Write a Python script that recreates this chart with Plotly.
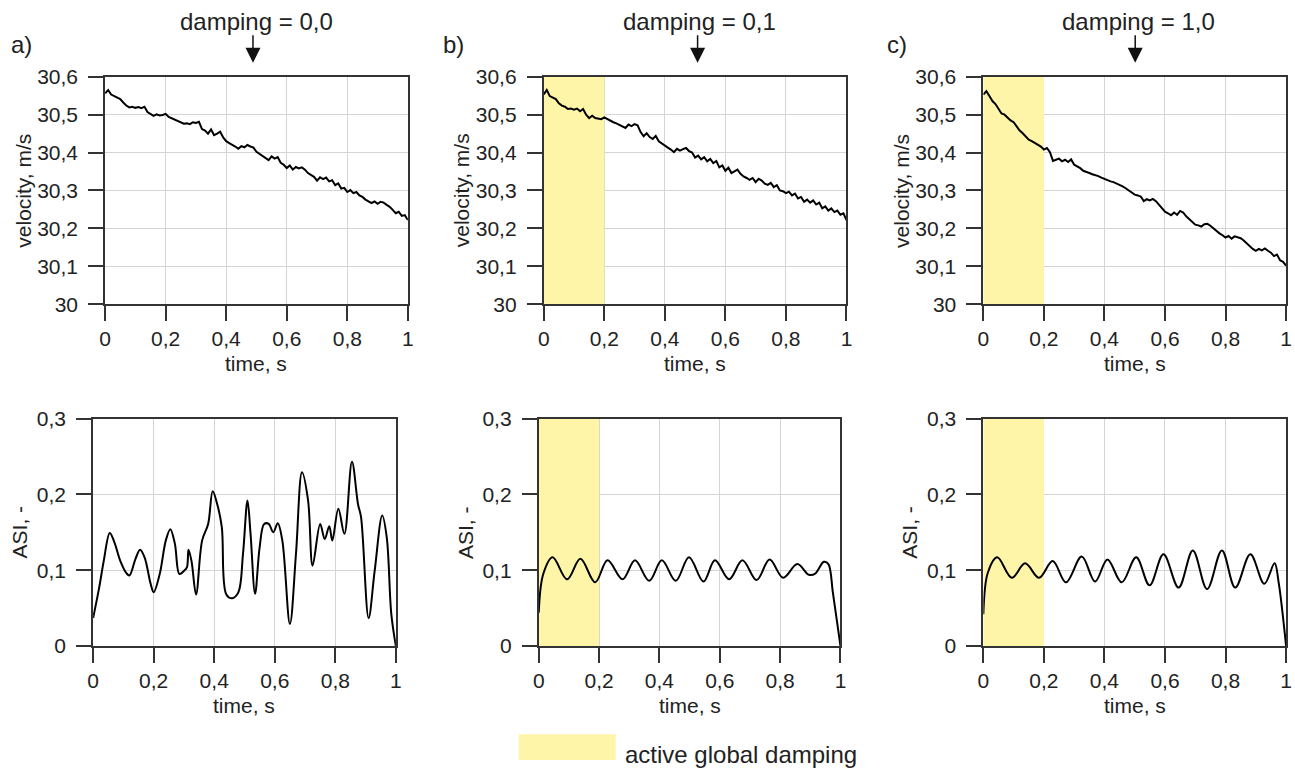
import plotly.graph_objects as go

W, H = 1295, 771          # browser window = figure size (page margin removed below)
# observed mapping page-px -> picture-px (picture = s * page + c)
SX, CX = 0.9916, 4.8
SY, CY = 0.968, 12.4

# ---------------- data ----------------
time_v = [0.00, 0.01, 0.02, 0.03, 0.04, 0.05, 0.06, 0.07, 0.08, 0.09,
          0.10, 0.11, 0.12, 0.13, 0.14, 0.15, 0.16, 0.17, 0.18, 0.19,
          0.20, 0.21, 0.22, 0.23, 0.24, 0.25, 0.26, 0.27, 0.28, 0.29,
          0.30, 0.31, 0.32, 0.33, 0.34, 0.35, 0.36, 0.37, 0.38, 0.39,
          0.40, 0.41, 0.42, 0.43, 0.44, 0.45, 0.46, 0.47, 0.48, 0.49,
          0.50, 0.51, 0.52, 0.53, 0.54, 0.55, 0.56, 0.57, 0.58, 0.59,
          0.60, 0.61, 0.62, 0.63, 0.64, 0.65, 0.66, 0.67, 0.68, 0.69,
          0.70, 0.71, 0.72, 0.73, 0.74, 0.75, 0.76, 0.77, 0.78, 0.79,
          0.80, 0.81, 0.82, 0.83, 0.84, 0.85, 0.86, 0.87, 0.88, 0.89,
          0.90, 0.91, 0.92, 0.93, 0.94, 0.95, 0.96, 0.97, 0.98, 0.99, 1.00]

velocity_a = [30.556, 30.565, 30.553, 30.549, 30.545, 30.541, 30.532, 30.524, 30.519, 30.521,
              30.518, 30.520, 30.517, 30.521, 30.507, 30.503, 30.497, 30.501, 30.498, 30.499,
              30.502, 30.494, 30.490, 30.487, 30.484, 30.480, 30.476, 30.477, 30.475, 30.480,
              30.478, 30.481, 30.462, 30.458, 30.450, 30.461, 30.446, 30.450, 30.455, 30.440,
              30.430, 30.425, 30.421, 30.416, 30.410, 30.417, 30.414, 30.420, 30.416, 30.413,
              30.402, 30.396, 30.390, 30.386, 30.380, 30.390, 30.384, 30.388, 30.373, 30.368,
              30.359, 30.366, 30.355, 30.362, 30.358, 30.361, 30.355, 30.346, 30.341, 30.336,
              30.326, 30.335, 30.330, 30.334, 30.324, 30.327, 30.314, 30.319, 30.305, 30.307,
              30.296, 30.301, 30.293, 30.296, 30.287, 30.283, 30.276, 30.272, 30.267, 30.271,
              30.265, 30.270, 30.268, 30.262, 30.257, 30.249, 30.240, 30.244, 30.233, 30.235, 30.222]

velocity_b = [30.553, 30.565, 30.549, 30.545, 30.541, 30.530, 30.524, 30.521, 30.515, 30.516,
              30.513, 30.516, 30.509, 30.515, 30.500, 30.491, 30.497, 30.491, 30.489, 30.488,
              30.493, 30.488, 30.483, 30.480, 30.477, 30.473, 30.470, 30.465, 30.474, 30.470,
              30.475, 30.472, 30.454, 30.443, 30.451, 30.441, 30.436, 30.444, 30.430, 30.424,
              30.417, 30.413, 30.408, 30.401, 30.410, 30.405, 30.409, 30.412, 30.404, 30.400,
              30.387, 30.392, 30.382, 30.388, 30.377, 30.383, 30.372, 30.378, 30.361, 30.366,
              30.352, 30.360, 30.346, 30.350, 30.355, 30.344, 30.337, 30.333, 30.328, 30.333,
              30.322, 30.331, 30.326, 30.318, 30.315, 30.320, 30.309, 30.314, 30.300, 30.298,
              30.293, 30.297, 30.287, 30.292, 30.279, 30.283, 30.270, 30.276, 30.268, 30.274,
              30.263, 30.268, 30.253, 30.258, 30.247, 30.253, 30.243, 30.247, 30.236, 30.240, 30.222]

velocity_c = [30.553, 30.562, 30.549, 30.536, 30.528, 30.514, 30.503, 30.500, 30.492, 30.485,
              30.480, 30.469, 30.458, 30.451, 30.443, 30.434, 30.430, 30.425, 30.420, 30.416,
              30.408, 30.412, 30.401, 30.378, 30.381, 30.384, 30.377, 30.381, 30.375, 30.382,
              30.368, 30.364, 30.359, 30.352, 30.348, 30.346, 30.343, 30.341, 30.338, 30.334,
              30.330, 30.327, 30.324, 30.322, 30.319, 30.314, 30.311, 30.306, 30.301, 30.295,
              30.289, 30.287, 30.284, 30.272, 30.277, 30.274, 30.278, 30.272, 30.263, 30.255,
              30.244, 30.240, 30.235, 30.242, 30.236, 30.246, 30.242, 30.232, 30.224, 30.216,
              30.210, 30.208, 30.205, 30.211, 30.212, 30.207, 30.200, 30.194, 30.187, 30.182,
              30.176, 30.180, 30.173, 30.179, 30.177, 30.174, 30.168, 30.160, 30.152, 30.146,
              30.141, 30.146, 30.142, 30.147, 30.141, 30.136, 30.127, 30.131, 30.116, 30.112, 30.102]

time_asi_a = [0.0, 0.02, 0.035, 0.055, 0.07, 0.09, 0.11, 0.12, 0.14, 0.155, 0.17, 0.19, 0.2,
              0.22, 0.24, 0.255, 0.27, 0.285, 0.3, 0.31, 0.315, 0.325, 0.34, 0.36, 0.38,
              0.395, 0.41, 0.425, 0.44, 0.46, 0.48, 0.495, 0.51, 0.52, 0.535, 0.55, 0.565,
              0.58, 0.595, 0.61, 0.625, 0.65, 0.67, 0.69, 0.71, 0.725, 0.75, 0.765, 0.78,
              0.79, 0.81, 0.83, 0.855, 0.875, 0.885, 0.91, 0.93, 0.955, 0.97, 0.985, 1.0]
asi_a = [0.037, 0.077, 0.112, 0.149, 0.137, 0.112, 0.096, 0.093, 0.115, 0.127, 0.117, 0.082, 0.071,
         0.095, 0.139, 0.154, 0.135, 0.095, 0.099, 0.104, 0.127, 0.112, 0.068, 0.139, 0.161,
         0.204, 0.187, 0.157, 0.068, 0.063, 0.071, 0.121, 0.192, 0.148, 0.069, 0.130, 0.161,
         0.161, 0.150, 0.162, 0.139, 0.029, 0.121, 0.229, 0.192, 0.106, 0.161, 0.141, 0.158,
         0.139, 0.181, 0.148, 0.243, 0.187, 0.170, 0.037, 0.099, 0.172, 0.143, 0.042, 0.0]

time_asi_b = [0.0, 0.015, 0.046, 0.094, 0.138, 0.187, 0.228, 0.278, 0.319, 0.366, 0.408, 0.454,
              0.498, 0.546, 0.584, 0.631, 0.675, 0.722, 0.765, 0.81, 0.857, 0.895, 0.915,
              0.945, 0.96, 0.975, 1.0]
asi_b = [0.044, 0.095, 0.117, 0.088, 0.115, 0.084, 0.113, 0.088, 0.113, 0.086, 0.113, 0.086,
         0.117, 0.085, 0.113, 0.088, 0.113, 0.087, 0.114, 0.090, 0.108, 0.094, 0.095,
         0.111, 0.108, 0.070, 0.0]

time_asi_c = [0.0, 0.015, 0.046, 0.094, 0.138, 0.184, 0.229, 0.273, 0.325, 0.369, 0.41, 0.457,
              0.505, 0.549, 0.595, 0.645, 0.692, 0.739, 0.788, 0.832, 0.882, 0.928, 0.962,
              0.975, 1.0]
asi_c = [0.042, 0.097, 0.117, 0.090, 0.109, 0.090, 0.112, 0.084, 0.118, 0.085, 0.114, 0.084,
         0.117, 0.080, 0.121, 0.077, 0.126, 0.075, 0.126, 0.077, 0.121, 0.082, 0.109,
         0.085, 0.0]

panel_letters = ["a)", "b)", "c)"]
damping_labels = ["damping = 0,0", "damping = 0,1", "damping = 1,0"]
damping_active_end = 0.2
x_ticks = [0, 0.2, 0.4, 0.6, 0.8, 1]
v_range = [30, 30.6]
v_ticks = [30, 30.1, 30.2, 30.3, 30.4, 30.5, 30.6]
asi_range = [0, 0.3]
asi_ticks = [0, 0.1, 0.2, 0.3]

# ---------------- layout helpers ----------------
FONT = "Liberation Sans, Arial, sans-serif"
TXT = "#222222"
FRAME = "#333333"
GRID = "#d4d4d4"
YELLOW = "#fff5a8"

def fx(t):
    # target picture pixel -> paper fraction
    return ((t - CX) / SX) / W

def fy(t):
    return 1 - ((t - CY) / SY) / H

# plot-area pixel boxes in the picture: (left, right, top, bottom)
top_boxes = [(104, 407, 77, 304), (543, 846, 77, 304), (983, 1286, 77, 304)]
bot_boxes = [(92, 395, 418, 645), (538, 840, 418, 645), (983, 1286, 418, 645)]

fig = go.Figure()

velocities = [velocity_a, velocity_b, velocity_c]
asi_t = [time_asi_a, time_asi_b, time_asi_c]
asi_v = [asi_a, asi_b, asi_c]

def axis_common():
    return dict(
        showgrid=True, gridcolor=GRID, gridwidth=1,
        showline=True, linecolor=FRAME, linewidth=1.8, mirror=True,
        ticks="outside", ticklen=15, tickwidth=1.5, tickcolor=FRAME,
        tickfont=dict(family=FONT, size=21, color=TXT),
        zeroline=False, fixedrange=True,
    )

def shade(xref, yref, yr):
    # yellow band for the period of active global damping (above grid, below curve)
    return go.Scatter(x=[0, damping_active_end, damping_active_end, 0, 0],
                      y=[yr[0], yr[0], yr[1], yr[1], yr[0]],
                      mode="lines", fill="toself", fillcolor=YELLOW,
                      line=dict(width=0, color=YELLOW), hoverinfo="skip",
                      xaxis=xref, yaxis=yref, showlegend=False)

annotations = []
shapes = []

for i in range(3):
    ti = 2 * i + 1
    bi = 2 * i + 2
    l, r, t, b = top_boxes[i]
    xa = axis_common()
    xa.update(domain=[fx(l), fx(r)], range=[0, 1], tickvals=x_ticks, anchor=f"y{ti}")
    ya = axis_common()
    ya.update(domain=[fy(b), fy(t)], range=v_range, tickvals=v_ticks, anchor=f"x{ti}",
              ticklabelstandoff=6)
    fig.update_layout(**{f"xaxis{ti}": xa, f"yaxis{ti}": ya})
    if i > 0:
        fig.add_trace(shade(f"x{ti}", f"y{ti}", v_range))
    fig.add_trace(go.Scatter(x=time_v, y=velocities[i], mode="lines",
                             line=dict(color="#000000", width=2),
                             xaxis=f"x{ti}", yaxis=f"y{ti}", showlegend=False))
    annotations.append(dict(text="time, s", x=fx((l + r) / 2), y=fy(b + 59), xref="paper", yref="paper",
                            showarrow=False, font=dict(family=FONT, size=21, color=TXT),
                            xanchor="center", yanchor="middle"))
    annotations.append(dict(text="velocity, m/s", x=fx(l - 82), y=fy((t + b) / 2), xref="paper", yref="paper",
                            showarrow=False, textangle=-90, font=dict(family=FONT, size=21, color=TXT),
                            xanchor="center", yanchor="middle"))

    l2, r2, t2, b2 = bot_boxes[i]
    xa = axis_common()
    xa.update(domain=[fx(l2), fx(r2)], range=[0, 1], tickvals=x_ticks, anchor=f"y{bi}")
    ya = axis_common()
    ya.update(domain=[fy(b2), fy(t2)], range=asi_range, tickvals=asi_ticks, anchor=f"x{bi}",
              ticklabelstandoff=6)
    fig.update_layout(**{f"xaxis{bi}": xa, f"yaxis{bi}": ya})
    if i > 0:
        fig.add_trace(shade(f"x{bi}", f"y{bi}", asi_range))
    fig.add_trace(go.Scatter(x=asi_t[i], y=asi_v[i], mode="lines",
                             line=dict(color="#000000", width=2, shape="spline", smoothing=1.0),
                             xaxis=f"x{bi}", yaxis=f"y{bi}", showlegend=False))
    annotations.append(dict(text="time, s", x=fx((l2 + r2) / 2), y=fy(b2 + 59), xref="paper", yref="paper",
                            showarrow=False, font=dict(family=FONT, size=21, color=TXT),
                            xanchor="center", yanchor="middle"))
    annotations.append(dict(text="ASI, -", x=fx(l2 - 74), y=fy((t2 + b2) / 2), xref="paper", yref="paper",
                            showarrow=False, textangle=-90, font=dict(family=FONT, size=21, color=TXT),
                            xanchor="center", yanchor="middle"))

    letter_x = [20, 453, 897][i]
    annotations.append(dict(text=panel_letters[i], x=fx(letter_x), y=fy(45), xref="paper", yref="paper",
                            showarrow=False, font=dict(family=FONT, size=24, color=TXT),
                            xanchor="center", yanchor="middle"))
    title_x = [256, 699, 1138][i]
    arrow_x = [252, 697, 1135][i]
    annotations.append(dict(text=damping_labels[i], x=fx(title_x), y=fy(22), xref="paper", yref="paper",
                            showarrow=False, font=dict(family=FONT, size=24, color=TXT),
                            xanchor="center", yanchor="middle"))
    annotations.append(dict(text="", x=fx(arrow_x), y=fy(63), xref="paper", yref="paper",
                            showarrow=True, ax=0, ay=-29, axref="pixel", ayref="pixel",
                            arrowhead=2, arrowsize=2, arrowwidth=1.5, arrowcolor="#111111"))

# legend for the shaded area
shapes.append(dict(type="rect", xref="paper", yref="paper",
                   x0=fx(518), x1=fx(615), y0=0, y1=fy(733),
                   fillcolor=YELLOW, line=dict(width=0)))
annotations.append(dict(text="active global damping", x=fx(622), y=fy(753), xref="paper", yref="paper",
                        showarrow=False, font=dict(family=FONT, size=24, color=TXT),
                        xanchor="left", yanchor="middle"))

fig.update_layout(
    width=W, height=H,
    margin=dict(l=0, r=0, t=0, b=0),
    paper_bgcolor="white", plot_bgcolor="white",
    separators=", ",
    font=dict(family=FONT, color=TXT),
    annotations=annotations,
    shapes=shapes,
    showlegend=False,
)

fig.write_html("out.html", config={"displayModeBar": False},
               post_script="document.body.style.margin='0px';document.body.style.overflow='hidden';")
